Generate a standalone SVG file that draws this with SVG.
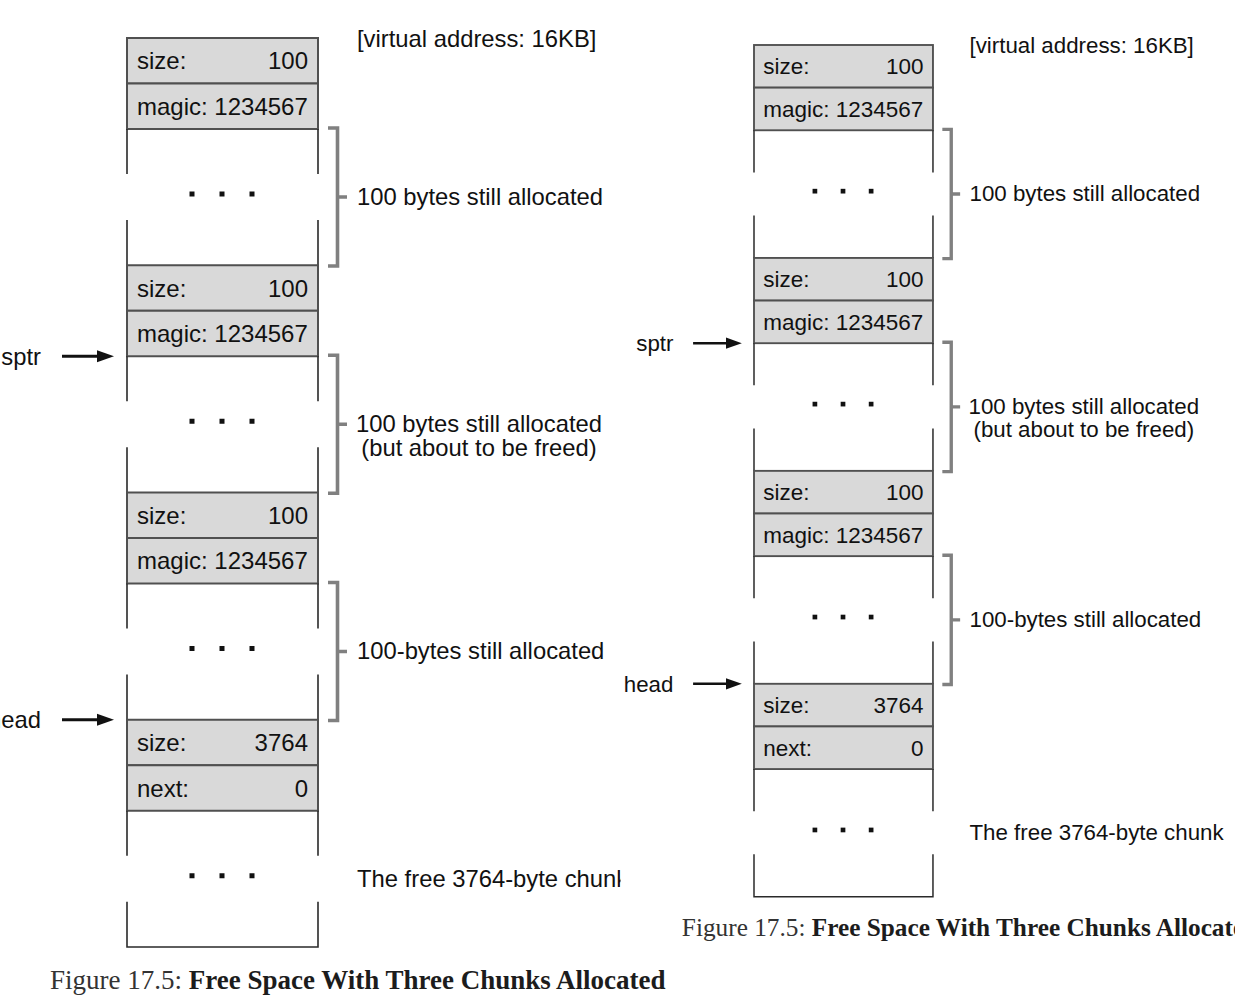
<svg xmlns="http://www.w3.org/2000/svg" width="1235" height="1000" viewBox="0 0 1235 1000">
<style>
.row{fill:#d9d9d9;stroke:#505050;stroke-width:2}
.side{stroke:#2a2a2a;stroke-width:1.6;fill:none}
.brk{stroke:#808080;stroke-width:3.6;fill:none}
.t{font-family:"Liberation Sans",Arial,Helvetica,sans-serif;font-size:24px;fill:#111}
.lb{font-size:23.8px}
.dot{fill:#111}
.arr{stroke:#111;stroke-width:2.8;fill:none}
.cap{font-family:"Liberation Serif","Times New Roman",serif;font-size:27px}
.capr{fill:#333}
.capb{fill:#1c1c1c;font-weight:bold}
</style>
<defs>
<marker id="ah" markerUnits="userSpaceOnUse" markerWidth="17" markerHeight="13" refX="10" refY="6.5" orient="auto">
<path d="M0,0.5 L17,6.5 L0,12.5 z" fill="#111"/>
</marker>
<clipPath id="clipL" clipPathUnits="userSpaceOnUse"><rect x="200" y="800" width="293.5" height="100"/></clipPath>
</defs>
<rect width="1235" height="1000" fill="#fff"/>

<g id="fig-left" transform="translate(127,38)">
  <text id="va-left" class="t lb" x="230" y="9">[virtual address: 16KB]</text>
  <g id="chunk0-left">
    <rect class="row" x="0" y="0" width="191" height="45.5"/>
    <rect class="row" x="0" y="45.5" width="191" height="45.5"/>
    <text class="t" x="10" y="31.3">size:</text><text class="t" x="181" y="31.3" text-anchor="end">100</text>
    <text class="t" x="10" y="76.8">magic: 1234567</text>
    <path class="side" d="M0,91V136M191,91V136M0,182V227.25M191,182V227.25"/>
    <rect class="dot" x="62.5" y="153.5" width="5" height="5"/><rect class="dot" x="92.5" y="153.5" width="5" height="5"/><rect class="dot" x="122.5" y="153.5" width="5" height="5"/>
  </g>
  <g id="chunk1-left">
    <rect class="row" x="0" y="227.25" width="191" height="45.5"/>
    <rect class="row" x="0" y="272.75" width="191" height="45.5"/>
    <text class="t" x="10" y="258.5">size:</text><text class="t" x="181" y="258.5" text-anchor="end">100</text>
    <text class="t" x="10" y="304">magic: 1234567</text>
    <path class="side" d="M0,318.25V363.25M191,318.25V363.25M0,409.25V454.5M191,409.25V454.5"/>
    <rect class="dot" x="62.5" y="380.75" width="5" height="5"/><rect class="dot" x="92.5" y="380.75" width="5" height="5"/><rect class="dot" x="122.5" y="380.75" width="5" height="5"/>
  </g>
  <g id="chunk2-left">
    <rect class="row" x="0" y="454.5" width="191" height="45.5"/>
    <rect class="row" x="0" y="500" width="191" height="45.5"/>
    <text class="t" x="10" y="485.8">size:</text><text class="t" x="181" y="485.8" text-anchor="end">100</text>
    <text class="t" x="10" y="531.3">magic: 1234567</text>
    <path class="side" d="M0,545.5V590.5M191,545.5V590.5M0,636.5V681.75M191,636.5V681.75"/>
    <rect class="dot" x="62.5" y="608" width="5" height="5"/><rect class="dot" x="92.5" y="608" width="5" height="5"/><rect class="dot" x="122.5" y="608" width="5" height="5"/>
  </g>
  <g id="chunk3-left">
    <rect class="row" x="0" y="681.75" width="191" height="45.5"/>
    <rect class="row" x="0" y="727.25" width="191" height="45.5"/>
    <text class="t" x="10" y="713">size:</text><text class="t" x="181" y="713" text-anchor="end">3764</text>
    <text class="t" x="10" y="758.5">next:</text><text class="t" x="181" y="758.5" text-anchor="end">0</text>
    <path class="side" d="M0,772.75V817.75M191,772.75V817.75M0,863.75V909H191V863.75"/>
    <rect class="dot" x="62.5" y="835.25" width="5" height="5"/><rect class="dot" x="92.5" y="835.25" width="5" height="5"/><rect class="dot" x="122.5" y="835.25" width="5" height="5"/>
  </g>
  <g id="brackets-left">
    <path class="brk" d="M201,90H210.5V228H201M210.5,159H220"/>
    <path class="brk" d="M201,317.25H210.5V455.25H201M210.5,386.25H220"/>
    <path class="brk" d="M201,544.5H210.5V682.5H201M210.5,613.5H220"/>
  </g>
  <g id="labels-left">
    <text class="t lb" x="230" y="167">100 bytes still allocated</text>
    <text class="t lb" x="352" y="393.5" text-anchor="middle">100 bytes still allocated</text>
    <text class="t lb" x="352" y="418" text-anchor="middle">(but about to be freed)</text>
    <text class="t lb" x="230" y="621">100-bytes still allocated</text>
    <text class="t lb" x="230" y="849" clip-path="url(#clipL)">The free 3764-byte chunk</text>
  </g>
  <g id="pointers-left">
    <text class="t lb" x="-86" y="327" text-anchor="end">sptr</text>
    <text class="t lb" x="-86" y="690" text-anchor="end">head</text>
  </g>
  <g id="connectors-left">
    <line class="arr" x1="-65" y1="318.25" x2="-20" y2="318.25" marker-end="url(#ah)"/>
    <line class="arr" x1="-65" y1="681.75" x2="-20" y2="681.75" marker-end="url(#ah)"/>
  </g>
  <text id="caption-left" class="cap" x="-77" y="951"><tspan class="capr">Figure 17.5: </tspan><tspan class="capb">Free Space With Three Chunks Allocated</tspan></text>
</g>

<g id="fig-right" transform="translate(754,45) scale(0.937)">
  <text id="va-right" class="t lb" x="230" y="9">[virtual address: 16KB]</text>
  <g id="chunk0-right">
    <rect class="row" x="0" y="0" width="191" height="45.5"/>
    <rect class="row" x="0" y="45.5" width="191" height="45.5"/>
    <text class="t" x="10" y="31.3">size:</text><text class="t" x="181" y="31.3" text-anchor="end">100</text>
    <text class="t" x="10" y="76.8">magic: 1234567</text>
    <path class="side" d="M0,91V136M191,91V136M0,182V227.25M191,182V227.25"/>
    <rect class="dot" x="62.5" y="153.5" width="5" height="5"/><rect class="dot" x="92.5" y="153.5" width="5" height="5"/><rect class="dot" x="122.5" y="153.5" width="5" height="5"/>
  </g>
  <g id="chunk1-right">
    <rect class="row" x="0" y="227.25" width="191" height="45.5"/>
    <rect class="row" x="0" y="272.75" width="191" height="45.5"/>
    <text class="t" x="10" y="258.5">size:</text><text class="t" x="181" y="258.5" text-anchor="end">100</text>
    <text class="t" x="10" y="304">magic: 1234567</text>
    <path class="side" d="M0,318.25V363.25M191,318.25V363.25M0,409.25V454.5M191,409.25V454.5"/>
    <rect class="dot" x="62.5" y="380.75" width="5" height="5"/><rect class="dot" x="92.5" y="380.75" width="5" height="5"/><rect class="dot" x="122.5" y="380.75" width="5" height="5"/>
  </g>
  <g id="chunk2-right">
    <rect class="row" x="0" y="454.5" width="191" height="45.5"/>
    <rect class="row" x="0" y="500" width="191" height="45.5"/>
    <text class="t" x="10" y="485.8">size:</text><text class="t" x="181" y="485.8" text-anchor="end">100</text>
    <text class="t" x="10" y="531.3">magic: 1234567</text>
    <path class="side" d="M0,545.5V590.5M191,545.5V590.5M0,636.5V681.75M191,636.5V681.75"/>
    <rect class="dot" x="62.5" y="608" width="5" height="5"/><rect class="dot" x="92.5" y="608" width="5" height="5"/><rect class="dot" x="122.5" y="608" width="5" height="5"/>
  </g>
  <g id="chunk3-right">
    <rect class="row" x="0" y="681.75" width="191" height="45.5"/>
    <rect class="row" x="0" y="727.25" width="191" height="45.5"/>
    <text class="t" x="10" y="713">size:</text><text class="t" x="181" y="713" text-anchor="end">3764</text>
    <text class="t" x="10" y="758.5">next:</text><text class="t" x="181" y="758.5" text-anchor="end">0</text>
    <path class="side" d="M0,772.75V817.75M191,772.75V817.75M0,863.75V909H191V863.75"/>
    <rect class="dot" x="62.5" y="835.25" width="5" height="5"/><rect class="dot" x="92.5" y="835.25" width="5" height="5"/><rect class="dot" x="122.5" y="835.25" width="5" height="5"/>
  </g>
  <g id="brackets-right">
    <path class="brk" d="M201,90H210.5V228H201M210.5,159H220"/>
    <path class="brk" d="M201,317.25H210.5V455.25H201M210.5,386.25H220"/>
    <path class="brk" d="M201,544.5H210.5V682.5H201M210.5,613.5H220"/>
  </g>
  <g id="labels-right">
    <text class="t lb" x="230" y="167">100 bytes still allocated</text>
    <text class="t lb" x="352" y="393.5" text-anchor="middle">100 bytes still allocated</text>
    <text class="t lb" x="352" y="418" text-anchor="middle">(but about to be freed)</text>
    <text class="t lb" x="230" y="621">100-bytes still allocated</text>
    <text class="t lb" x="230" y="849">The free 3764-byte chunk</text>
  </g>
  <g id="pointers-right">
    <text class="t lb" x="-86" y="327" text-anchor="end">sptr</text>
    <text class="t lb" x="-86" y="690" text-anchor="end">head</text>
  </g>
  <g id="connectors-right">
    <line class="arr" x1="-65" y1="318.25" x2="-20" y2="318.25" marker-end="url(#ah)"/>
    <line class="arr" x1="-65" y1="681.75" x2="-20" y2="681.75" marker-end="url(#ah)"/>
  </g>
  <text id="caption-right" class="cap" x="-77" y="951"><tspan class="capr">Figure 17.5: </tspan><tspan class="capb">Free Space With Three Chunks Allocated</tspan></text>
</g>
</svg>
